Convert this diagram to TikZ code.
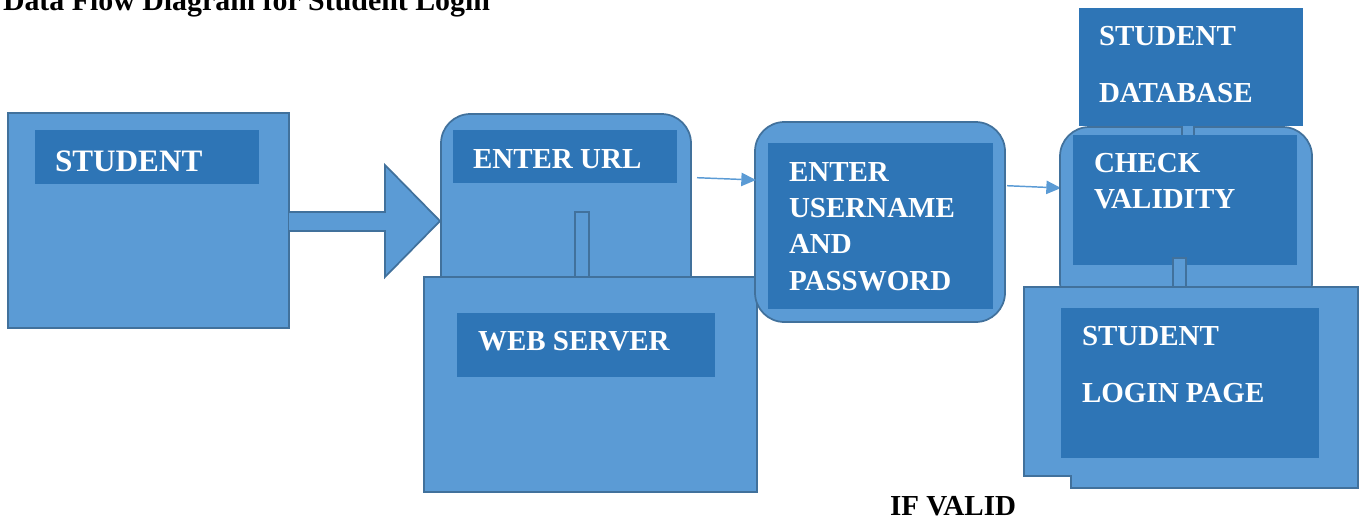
\documentclass[tikz,border=0pt]{standalone}
\usepackage{fontspec}
\setmainfont{Liberation Serif}
\usetikzlibrary{arrows.meta}
\definecolor{lightb}{HTML}{5B9BD5}
\definecolor{darkb}{HTML}{2E75B6}
\definecolor{bord}{HTML}{41719C}
\tikzset{
  lightbox/.style={draw=bord, fill=lightb, line width=1.3pt, rectangle, anchor=north west, inner sep=0pt, outer sep=0pt},
  darkbox/.style={fill=darkb, rectangle, anchor=north west, inner sep=0pt, outer sep=0pt},
  roundbox/.style={lightbox, rounded corners=22pt},
  lbl/.style={anchor=base west, inner sep=0pt, outer sep=0pt, text=white, font=\bfseries\fontsize{21.75}{26}\selectfont},
  blk/.style={anchor=base west, inner sep=0pt, outer sep=0pt, text=black, font=\bfseries\fontsize{21.75}{26}\selectfont},
  flow/.style={draw=lightb, line width=1.1pt, -{Triangle[length=11pt,width=10pt]}}
}
\begin{document}
\begin{tikzpicture}[x=0.75pt,y=-0.75pt]
\useasboundingbox (0,0) rectangle (1359,519);
% title
\node[blk, font=\bfseries\fontsize{22.4}{26}\selectfont] (title) at (3,10) {Data Flow Diagram for Student Login};
% student
\node[lightbox, minimum width=281*0.75pt, minimum height=215*0.75pt] (student) at (8,113) {};
\node[darkbox, minimum width=224*0.75pt, minimum height=54*0.75pt] (studentin) at (35,130) {};
\node[lbl, font=\bfseries\fontsize{23.4}{26}\selectfont] (studenttxt) at (55,171) {STUDENT};
% block arrow
\draw[draw=bord, fill=lightb, line width=1.3pt] (289,212) -- (385,212) -- (385,165) -- (440,221) -- (385,277) -- (385,231) -- (289,231);
% enter url
\node[roundbox, minimum width=250*0.75pt, minimum height=190*0.75pt] (url) at (441,114) {};
\node[darkbox, minimum width=224*0.75pt, minimum height=53*0.75pt] (urlin) at (453,130) {};
\node[lbl] (urltxt) at (473,168) {ENTER URL};
\node[lightbox, minimum width=14*0.75pt, minimum height=70*0.75pt] (bar1) at (575,212) {};
% web server
\node[lightbox, minimum width=333*0.75pt, minimum height=215*0.75pt] (web) at (424,277) {};
\node[darkbox, minimum width=258*0.75pt, minimum height=64*0.75pt] (webin) at (457,313) {};
\node[lbl] (webtxt) at (478,350) {WEB SERVER};
% credentials
\node[roundbox, minimum width=250*0.75pt, minimum height=200*0.75pt] (cred) at (755,122) {};
\node[darkbox, minimum width=225*0.75pt, minimum height=166*0.75pt] (credin) at (768,143) {};
\node[lbl] (c1) at (789,181) {ENTER};
\node[lbl] (c2) at (789,217) {USERNAME};
\node[lbl] (c3) at (789,253.5) {AND};
\node[lbl] (c4) at (789,290) {PASSWORD};
% arrows
\coordinate (a1s) at (697,177.7);
\coordinate (a1e) at (756,180);
\draw[flow] (a1s) -- (a1e);
\coordinate (a2s) at (1007,185.7);
\coordinate (a2e) at (1061,188);
\draw[flow] (a2s) -- (a2e);
% check validity
\node[roundbox, minimum width=252*0.75pt, minimum height=185*0.75pt] (check) at (1060,127) {};
\node[lightbox, minimum width=12*0.75pt, minimum height=20*0.75pt] (bar2) at (1182,118) {};
\node[darkbox, minimum width=224*0.75pt, minimum height=130*0.75pt] (checkin) at (1073,135) {};
\node[lbl] (k1) at (1094,172.7) {CHECK};
\node[lbl] (k2) at (1094,208.3) {VALIDITY};
% database
\node[darkbox, minimum width=224*0.75pt, minimum height=118*0.75pt] (db) at (1079,8) {};
\node[lbl] (d1) at (1099,45.7) {STUDENT};
\node[lbl] (d2) at (1099,102.7) {DATABASE};
\node[lightbox, minimum width=13*0.75pt, minimum height=35*0.75pt] (bar3) at (1173,258) {};
% login page
\draw[draw=bord, fill=lightb, line width=1.3pt] (1024,287) -- (1358,287) -- (1358,488) -- (1071,488) -- (1071,476) -- (1024,476) -- cycle;
\node[darkbox, minimum width=258*0.75pt, minimum height=150*0.75pt] (loginin) at (1061,308) {};
\node[lbl] (l1) at (1082,345.7) {STUDENT};
\node[lbl] (l2) at (1082,402.3) {LOGIN PAGE};
% if valid
\node[blk] (ifvalid) at (890,515) {IF VALID};
\end{tikzpicture}
\end{document}
